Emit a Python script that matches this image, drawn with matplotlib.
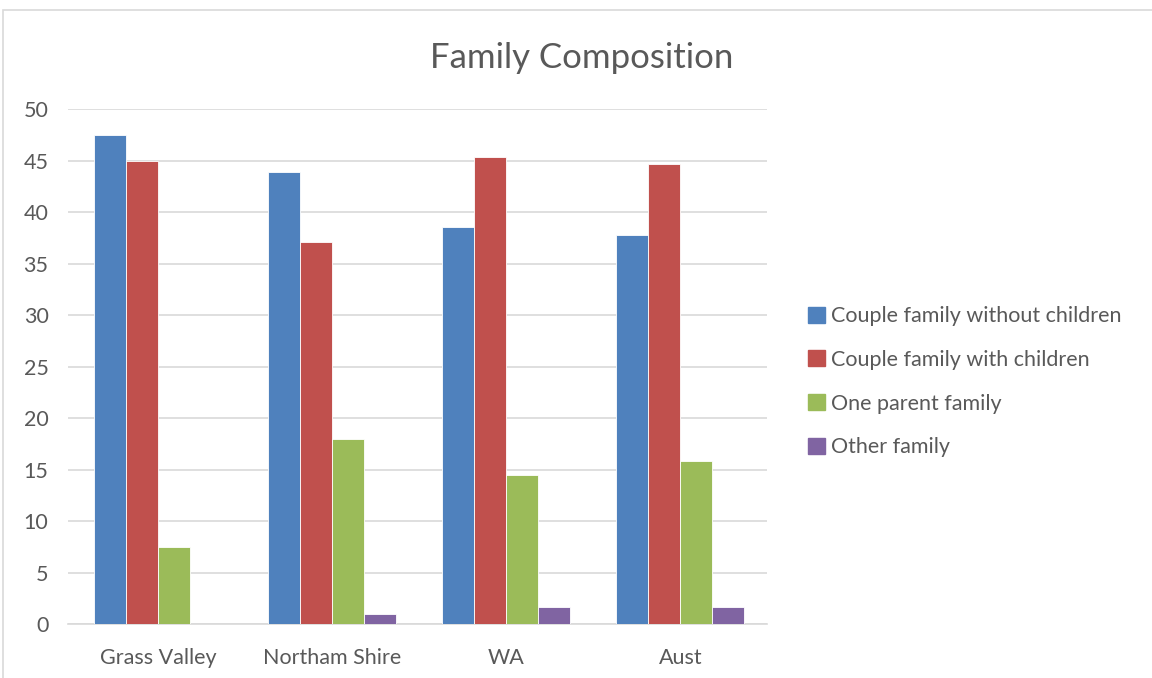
import numpy as np
import matplotlib
matplotlib.use('Agg')
import matplotlib.pyplot as plt
from matplotlib.patches import Rectangle, Patch

plt.rcParams['font.family'] = ['Lato', 'DejaVu Sans']

categories = ['Grass Valley', 'Northam Shire', 'WA', 'Aust']
series_names = ['Couple family without children', 'Couple family with children',
                'One parent family', 'Other family']
without_children = [47.5, 43.9, 38.5, 37.8]
with_children = [45.0, 37.1, 45.3, 44.7]
one_parent = [7.5, 18.0, 14.5, 15.8]
other_family = [0.0, 1.0, 1.7, 1.7]
yticks = [0, 5, 10, 15, 20, 25, 30, 35, 40, 45, 50]

colors = ['#4F81BD', '#C0504D', '#9BBB59', '#8064A2']
text_col = '#595959'

fig = plt.figure(figsize=(11.52, 6.78), dpi=100)
ax = fig.add_axes([0.059, 0.0796, 0.607, 0.7596])

x = np.arange(len(categories))
w = 0.184
data = [without_children, with_children, one_parent, other_family]
for i, vals in enumerate(data):
    ax.bar(x + (i - 1.5) * w, vals, w, color=colors[i], edgecolor='white',
           linewidth=0.6, label=series_names[i], zorder=3)

ax.set_xlim(-0.52, 3.5)
ax.set_ylim(0, 50)
ax.set_yticks(yticks)
ax.set_xticks(x)
ax.set_xticklabels(categories)
ax.grid(axis='y', color='#D9D9D9', linewidth=1.2, zorder=0)
for s in ['top', 'right', 'left']:
    ax.spines[s].set_visible(False)
ax.spines['bottom'].set_color('#D9D9D9')
ax.spines['bottom'].set_linewidth(1.2)
ax.tick_params(axis='both', length=0, labelsize=15.5, colors=text_col)
ax.tick_params(axis='x', pad=17)
ax.tick_params(axis='y', pad=14)

fig.text(0.505, 0.915, 'Family Composition', ha='center', va='center',
         fontsize=25, color=text_col)

handles = [Patch(color=c) for c in colors]
fig.legend(handles, series_names, loc='center left', bbox_to_anchor=(0.685, 0.437),
           frameon=False, fontsize=15.5, labelcolor=text_col, handlelength=0.75,
           handleheight=0.75, handletextpad=0.3, labelspacing=1.1)

# chart frame
fig.add_artist(Rectangle((0.003, -0.1), 1.2, 1.085, transform=fig.transFigure,
                         fill=False, edgecolor='#D9D9D9', linewidth=1.2))

fig.savefig('out.png', dpi=100)
